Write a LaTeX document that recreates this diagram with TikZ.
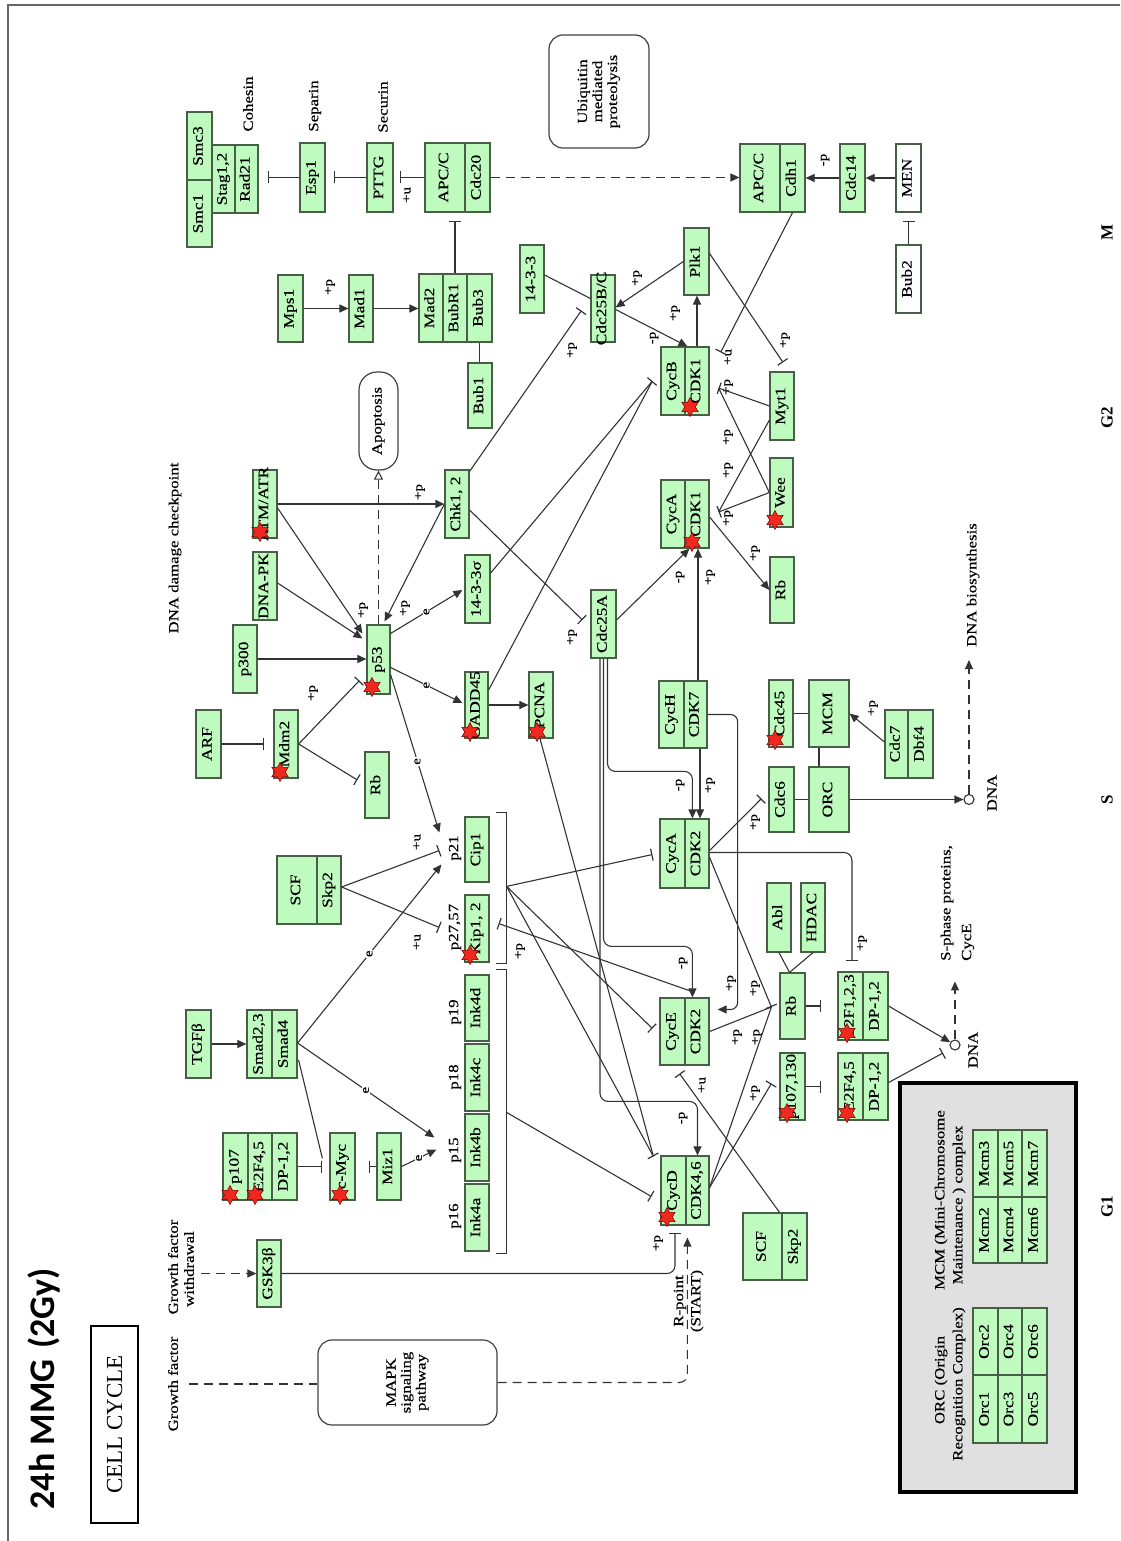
\documentclass[tikz,border=0pt]{standalone}
\usepackage{fontspec}
\setmainfont{Liberation Serif}
\newfontfamily\keggf[FakeStretch=1.2,FakeBold=0.4]{Liberation Serif}
\newfontfamily\titlef{Carlito}
\usetikzlibrary{arrows.meta,shapes.geometric,calc}
\definecolor{kgreen}{RGB}{191,250,191}
\definecolor{bdr}{RGB}{70,95,70}
\definecolor{starred}{RGB}{240,40,30}
\newcommand{\boxfont}{\keggf\fontsize{14.5}{16}\selectfont}
\newcommand{\lblfont}{\keggf\fontsize{14}{15}\selectfont}
\newcommand{\smfont}{\keggf\fontsize{12.5}{13}\selectfont}
\newcommand{\phfont}{\fontsize{17}{18}\selectfont\bfseries}
\newcommand{\rt}[1]{\rotatebox{90}{\makebox[0pt]{\strut #1}}}
\newcommand{\bx}[7][gbox]{%
 \pgfmathsetmacro\bxcx{(#3+#5)/2}%
 \pgfmathsetmacro\bxcy{(#4+#6)/2}%
 \pgfmathsetmacro\bxww{#5-#3}%
 \pgfmathsetmacro\bxhh{#6-#4}%
 \node[#1,minimum width=\bxww pt,minimum height=\bxhh pt] (#2) at (\bxcx,\bxcy) {\rt{#7}};}
\tikzset{
 gbox/.style={draw=bdr,fill=kgreen,line width=1.2pt,inner sep=0pt,font=\boxfont},
 wbox/.style={gbox,fill=white},
 rbox/.style={draw=black!75,line width=1.2pt,rounded corners=14pt,inner sep=0pt,font=\lblfont},
 lbl/.style={rotate=90,inner sep=1pt,font=\lblfont},
 sm/.style={rotate=90,inner sep=0.5pt,font=\smfont},
 elbl/.style={sm,fill=white,inner sep=0.8pt},
 ln/.style={draw=black!80,line width=1.1pt},
 arr/.style={ln,-{Triangle[width=8pt,length=9pt]}},
 inh/.style={ln,-{Bar[width=12pt,line width=1.2pt]}},
 dsh/.style={dash pattern=on 9pt off 6pt},
 rstar/.style={star,star points=6,star point ratio=1.8,fill=starred,draw=red!50!black,line width=0.5pt,minimum size=19pt,inner sep=0pt},
 dnac/.style={circle,draw=black!80,line width=1.1pt,minimum size=10pt,inner sep=0pt}
}
\begin{document}
\begin{tikzpicture}[x=1pt,y=-1pt]
\useasboundingbox (0,0) rectangle (1120,1541);
\draw[black!60,line width=1.3pt] (8,1541) -- (8,5) -- (1120,5);

% title
\node[rotate=90,font=\titlef\bfseries\fontsize{36}{40}\selectfont] (title) at (44,1389) {24h MMG\hspace{0.3em}(2Gy)};
\node[rotate=90,draw=black,line width=1.3pt,minimum width=197pt,minimum height=47pt,inner sep=0pt,font=\fontsize{23}{25}\selectfont] (cc) at (114.5,1424.5) {CELL CYCLE};

% grey complex box
\node[draw=black,line width=3.5pt,fill=black!12,minimum width=176pt,minimum height=409pt,inner sep=0pt] (grayb) at (988,1287.5) {};

% boxes
\bx{Smc1}{187}{180}{212}{247}{Smc1}
\bx{Smc3}{187}{112}{212}{180}{Smc3}
\bx{Stag}{212}{145}{235}{213}{Stag1,2}
\bx{Rad21}{235}{145}{258}{213}{Rad21}
\bx{Esp1}{300}{143}{325}{212}{Esp1}
\bx{PTTG}{367}{143}{393}{212}{PTTG}
\bx{APCa}{425}{143}{465}{212}{APC/C}
\bx{Cdc20}{465}{143}{490}{212}{Cdc20}
\bx[rbox]{Ubq}{549}{35}{649}{148}{\begin{tabular}{@{}c@{}}Ubiquitin\\mediated\\proteolysis\end{tabular}}
\bx{APCb}{740}{144}{780}{212}{APC/C}
\bx{Cdh1}{780}{144}{805}{212}{Cdh1}
\bx{Cdc14}{840}{144}{865}{212}{Cdc14}
\bx[wbox]{MEN}{896}{144}{921}{212}{MEN}
\bx[wbox]{Bub2}{896}{245}{921}{313}{Bub2}
\bx{Mps1}{278}{275}{303}{342}{Mps1}
\bx{Mad1}{349}{275}{373}{342}{Mad1}
\bx{Mad2}{419}{274}{443}{342}{Mad2}
\bx{BubR1}{443}{274}{467}{342}{BubR1}
\bx{Bub3}{467}{274}{492}{342}{Bub3}
\bx{Bub1}{468}{363}{492}{428}{Bub1}
\bx{Fa}{520}{245}{544}{313}{14-3-3}
\bx{Cdc25BC}{591}{275}{615}{342}{Cdc25B/C}
\bx{Plk1}{684}{228}{709}{295}{Plk1}
\bx{CycB}{661}{347}{685}{415}{CycB}
\bx{CDKb}{685}{347}{709}{415}{CDK1}
\bx{Myt1}{770}{372}{794}{440}{Myt1}
\bx[rbox,rounded corners=18pt]{Apo}{359}{372}{398}{470}{Apoptosis}
\bx{ATM}{253}{470}{277}{538}{ATM/ATR}
\bx{DNAPK}{253}{552}{277}{620}{DNA-PK}
\bx{Chk}{445}{470}{469}{538}{Chk1, 2}
\bx{Fs}{465}{555}{490}{623}{14-3-3σ}
\bx{CycAa}{661}{480}{685}{548}{CycA}
\bx{CDKa}{685}{480}{709}{548}{CDK1}
\bx{Wee}{770}{458}{793}{527}{Wee}
\bx{RbG}{770}{557}{794}{623}{Rb}
\bx{Cdc25A}{591}{590}{616}{658}{Cdc25A}
\bx{p300}{233}{625}{257}{693}{p300}
\bx{p53}{367}{625}{390}{694}{p53}
\bx{GADD}{465}{672}{488}{738}{GADD45}
\bx{PCNA}{529}{672}{553}{738}{PCNA}
\bx{CycH}{659}{681}{684}{748}{CycH}
\bx{CDK7}{684}{681}{707}{748}{CDK7}
\bx{Cdc45}{769}{680}{793}{747}{Cdc45}
\bx{MCM}{809}{680}{849}{747}{MCM}
\bx{Cdc7}{885}{710}{908}{778}{Cdc7}
\bx{Dbf4}{908}{710}{933}{778}{Dbf4}
\bx{ARF}{196}{710}{221}{778}{ARF}
\bx{Mdm2}{274}{710}{298}{778}{Mdm2}
\bx{RbS}{365}{752}{389}{818}{Rb}
\bx{Cdc6}{769}{767}{794}{832}{Cdc6}
\bx{ORC}{809}{767}{849}{832}{ORC}
\bx{Cip1}{465}{817}{489}{882}{Cip1}
\bx{Kip}{465}{895}{489}{962}{Kip1, 2}
\bx{SCFa}{277}{856}{317}{924}{SCF}
\bx{Skpa}{317}{856}{341}{924}{Skp2}
\bx{CycAb}{660}{819}{685}{888}{CycA}
\bx{CDK2a}{685}{819}{709}{888}{CDK2}
\bx{Abl}{767}{883}{791}{952}{Abl}
\bx{HDAC}{801}{883}{825}{952}{HDAC}
\bx{Ink4d}{465}{975}{489}{1041}{Ink4d}
\bx{Ink4c}{465}{1044}{489}{1111}{Ink4c}
\bx{Ink4b}{465}{1114}{489}{1181}{Ink4b}
\bx{Ink4a}{465}{1184}{489}{1251}{Ink4a}
\bx{TGFb}{186}{1010}{211}{1078}{TGFβ}
\bx{Smad23}{247}{1010}{272}{1078}{Smad2,3}
\bx{Smad4}{272}{1010}{297}{1078}{Smad4}
\bx{CycE}{660}{998}{685}{1065}{CycE}
\bx{CDK2e}{685}{998}{709}{1065}{CDK2}
\bx{Rb}{780}{973}{805}{1039}{Rb}
\bx{EFa}{838}{972}{863}{1040}{E2F1,2,3}
\bx{DPa}{863}{972}{888}{1040}{DP-1,2}
\bx{pOT}{780}{1053}{805}{1120}{p107,130}
\bx{EFb}{838}{1053}{863}{1120}{E2F4,5}
\bx{DPb}{863}{1053}{888}{1120}{DP-1,2}
\bx{p107}{223}{1133}{248}{1200}{p107}
\bx{EFc}{248}{1133}{272}{1200}{E2F4,5}
\bx{DPc}{272}{1133}{297}{1200}{DP-1,2}
\bx{cMyc}{330}{1133}{355}{1200}{c-Myc}
\bx{Miz1}{377}{1133}{401}{1200}{Miz1}
\bx{CycD}{661}{1156}{686}{1225}{CycD}
\bx{CDK46}{686}{1156}{709}{1225}{CDK4,6}
\bx{SCFb}{743}{1213}{782}{1280}{SCF}
\bx{Skpb}{782}{1213}{807}{1280}{Skp2}
\bx{GSK}{257}{1240}{281}{1307}{GSK3β}
\bx[rbox]{MAPK}{318}{1340}{497}{1425}{\begin{tabular}{@{}c@{}}MAPK\\signaling\\pathway\end{tabular}}
% complexes in grey box
\bx{Mcm3}{973}{1130}{998}{1197}{Mcm3}
\bx{Mcm2}{973}{1197}{998}{1263}{Mcm2}
\bx{Mcm5}{998}{1130}{1022}{1197}{Mcm5}
\bx{Mcm4}{998}{1197}{1022}{1263}{Mcm4}
\bx{Mcm7}{1022}{1130}{1047}{1197}{Mcm7}
\bx{Mcm6}{1022}{1197}{1047}{1263}{Mcm6}
\bx{Orc2}{973}{1308}{998}{1375}{Orc2}
\bx{Orc1}{973}{1375}{998}{1443}{Orc1}
\bx{Orc4}{998}{1308}{1022}{1375}{Orc4}
\bx{Orc3}{998}{1375}{1022}{1443}{Orc3}
\bx{Orc6}{1022}{1308}{1047}{1375}{Orc6}
\bx{Orc5}{1022}{1375}{1047}{1443}{Orc5}

% DNA circles
\node[dnac] (dnaA) at (969,799.5) {};
\node[dnac] (dnaB) at (955,1045) {};

% text labels
\node[lbl] (tCoh) at (248,104) {Cohesin};
\node[lbl] (tSep) at (315,106) {Separin};
\node[lbl] (tSec) at (383,107) {Securin};
\node[lbl] (tDDC) at (175,548) {DNA damage checkpoint};
\node[lbl] (tBio) at (973,585) {DNA biosynthesis};
\node[lbl] (tDNA1) at (992,793) {DNA};
\node[lbl] (tDNA2) at (973,1050) {DNA};
\node[lbl,anchor=west] (tSph1) at (947,962) {S-phase proteins,};
\node[lbl,anchor=west] (tSph2) at (968,962) {CycE};
\node[lbl] (tGF) at (173,1384) {Growth factor};
\node[lbl] (tGW1) at (173,1267) {Growth factor};
\node[lbl] (tGW2) at (189,1269) {withdrawal};
\node[lbl] (tR1) at (680,1301) {R-point};
\node[lbl] (tR2) at (697,1301) {(START)};
\node[lbl] (tMCM1) at (941,1200) {MCM (Mini-Chromosome};
\node[lbl] (tMCM2) at (959,1205) {Maintenance ) complex};
\node[lbl] (tORC1) at (941,1380) {ORC (Origin};
\node[lbl] (tORC2) at (959,1384) {Recognition Complex)};
\node[lbl] (tp21) at (455,848) {p21};
\node[lbl] (tp27) at (455,927) {p27,57};
\node[lbl] (tp19) at (455,1012) {p19};
\node[lbl] (tp18) at (455,1077) {p18};
\node[lbl] (tp15) at (455,1150) {p15};
\node[lbl] (tp16) at (455,1216) {p16};
\node[lbl,font=\phfont] (phM) at (1107,232) {M};
\node[lbl,font=\phfont] (phG2) at (1107,418) {G2};
\node[lbl,font=\phfont] (phS) at (1107,800) {S};
\node[lbl,font=\phfont] (phG1) at (1107,1207) {G1};

% small modification labels
\node[sm] (l1) at (407,195) {+u};
\node[sm] (l2) at (330,287) {+p};
\node[sm] (l3) at (825,160) {-p};
\node[sm] (l4) at (637,278) {+p};
\node[sm] (l5) at (654,338) {-p};
\node[sm] (l6) at (675,313) {+p};
\node[sm] (l7) at (728,357) {+u};
\node[sm] (l8) at (785,340) {+p};
\node[sm] (l9) at (728,387) {+p};
\node[sm] (l10) at (572,350) {+p};
\node[sm] (l11) at (728,437) {+p};
\node[sm] (l12) at (728,470) {+p};
\node[sm] (l13) at (728,518) {+p};
\node[sm] (l14) at (755,553) {+p};
\node[sm] (l15) at (680,577) {-p};
\node[sm] (l16) at (710,577) {+p};
\node[sm] (l17) at (572,637) {+p};
\node[sm] (l18) at (420,492) {+p};
\node[sm] (l19) at (363,610) {+p};
\node[sm] (l20) at (405,608) {+p};
\node[sm] (l21) at (313,693) {+p};
\node[sm] (l22) at (873,708) {+p};
\node[sm] (l23) at (680,785) {-p};
\node[sm] (l24) at (710,785) {+p};
\node[sm] (l25) at (755,822) {+p};
\node[sm] (l26) at (417,842) {+u};
\node[sm] (l27) at (417,942) {+u};
\node[sm] (l28) at (520,951) {+p};
\node[sm] (l29) at (862,943) {+p};
\node[sm] (l30) at (683,963) {-p};
\node[sm] (l31) at (731,983) {+p};
\node[sm] (l32) at (755,988) {+p};
\node[sm] (l33) at (737,1037) {+p};
\node[sm] (l34) at (757,1037) {+p};
\node[sm] (l35) at (702,1085) {+u};
\node[sm] (l36) at (755,1093) {+p};
\node[sm] (l37) at (683,1118) {-p};
\node[sm] (l38) at (658,1243) {+p};

% ---------- connectors ----------
\draw[inh] (Esp1.west) -- ($(Esp1.west -| Rad21.east)+(9,0)$);
\draw[inh] (PTTG.west) -- ($(PTTG.west -| Esp1.east)+(8,0)$);
\draw[inh] (APCa.west) -- ($(APCa.west -| PTTG.east)+(6,0)$);
\draw[inh] (BubR1.north) -- ($(BubR1.north |- APCa.south)+(0,8)$);
\draw[arr,dsh] (Cdc20.east) -- (Cdc20.east -| APCb.west);
\draw[arr] (Cdc14.west) -- (Cdc14.west -| Cdh1.east);
\draw[arr] (MEN.west) -- (MEN.west -| Cdc14.east);
\draw[inh] (Bub2.north) -- ($(MEN.south)+(0,8)$);
\draw[arr] (Mps1.east) -- (Mad1.west);
\draw[arr] (Mad1.east) -- (Mad1.east -| Mad2.west);
\draw[ln] (Bub3.south) -- (Bub3.south |- Bub1.north);
\draw[ln] ($(Fa.east)+(0,-4)$) -- ($(Cdc25BC.west)+(0,-10)$);
\draw[arr] (Plk1.west) -- ($(Cdc25BC.east)+(0,-1)$);
\draw[arr] ($(Cdc25BC.east)+(0,1)$) -- ($(CDKb.north west)+(3,0)$);
\draw[arr] (CDKb.north) -- (CDKb.north |- Plk1.south);
\draw[inh] (Cdh1.south) -- ($(CDKb.north east)+(11,6)$);
\draw[inh] ($(Plk1.east)+(0,-8)$) -- ($(Myt1.north)+(1,-9)$);
\draw[inh] (Myt1.west) -- ($(CDKb.east)+(9,7)$);
\draw[ln] (Wee.west) -- ($(CDKb.east)+(9,7)$);
\draw[ln] ($(Myt1.west)+(0,14)$) -- ($(CDKa.east)+(9,-2)$);
\draw[inh] (Wee.west) -- ($(CDKa.east)+(9,-2)$);
\draw[arr] ($(CDKa.east)+(0,3)$) -- (RbG.west);
\draw[arr] ($(Cdc25A.east)+(0,-4)$) -- ($(CDKa.south west)+(5,0)$);
\draw[arr] ($(CDK7.north)+(2.5,0)$) -- ($(CDK7.north |- CDKa.south)+(2.5,0)$);
\draw[inh] ($(Chk.north east)+(0,2)$) -- ($(Cdc25BC.south west)+(-9,-32)$);
\draw[inh] ($(Chk.east)+(0,6)$) -- ($(Cdc25A.west)+(-8,-4)$);
\draw[inh] ($(Fs.east)+(0,-16)$) -- ($(CycB.west)+(-8,0)$);
\draw[ln] ($(GADD.east)+(0,-15)$) -- ($(CycB.west)+(-8,0)$);
\draw[arr] ($(ATM.east)+(0,4)$) -- ($(p53.west)+(-4,-26)$);
\draw[arr] ($(DNAPK.east)+(0,-3)$) -- ($(p53.west)+(-4,-21)$);
\draw[arr] (ATM.east) -- (ATM.east -| Chk.west);
\draw[arr] (Chk.west) -- ($(p53.north east)+(-6,-3)$);
\draw[arr] (p300.east) -- (p300.east -| p53.west);
\draw[ln,dsh,-{Triangle[open,width=9pt,length=9pt]}] (p53.north) -- (p53.north |- Apo.south);
\draw[arr] ($(p53.east)+(0,-26)$) -- node[elbl](e1){e} ($(Fs.west)+(-2,1)$);
\draw[arr] ($(p53.east)+(0,8)$) -- node[elbl](e2){e} ($(GADD.west)+(-2,-2)$);
\draw[arr] (GADD.east) -- (GADD.east -| PCNA.west);
\draw[arr] ($(p53.south east)+(0,-20)$) -- node[elbl,pos=.55](e3){e} ($(Cip1.west)+(-25,-17)$);
\draw[inh] (ARF.east) -- ($(Mdm2.west)+(-9,0)$);
\draw[inh] (Mdm2.east) -- ($(p53.south west)+(-7,-14)$);
\draw[inh] (Mdm2.east) -- ($(RbS.west)+(-7,-5)$);
\draw[ln] (Cdc45.east) -- (MCM.west);
\draw[ln] ($(MCM.south)+(-10,0)$) -- ($(ORC.north)+(-10,0)$);
\draw[ln] (Cdc6.east) -- (ORC.west);
\draw[arr] ($(Cdc7.west)+(0,-2)$) -- (MCM.east);
\draw[arr] (ORC.east) -- (ORC.east -| dnaA.west);
\draw[ln,dsh,arr] (dnaA.north) -- ($(dnaA.north |- tBio.west)+(0,12)$);
\draw[arr] (DPa.east) -- (dnaB);
\draw[inh] ($(DPb.east)+(0,-4)$) -- ($(dnaB)+(-12,8)$);
\draw[ln,dsh,arr] (dnaB.north) -- ($(dnaB.north)+(0,-58)$);
\draw[inh] (Rb.east) -- ($(Rb.east -| EFa.west)+(-16,0)$);
\draw[inh] (pOT.east) -- ($(pOT.east -| EFb.west)+(-16,0)$);
\draw[ln] (Abl.south) -- ($(Rb.north)+(-3,0)$);
\draw[ln] (HDAC.south) -- ($(Rb.north)+(-3,0)$);
\draw[inh] ($(CDK2a.east)+(0,-3)$) -- ($(Cdc6.south west)+(-7,-34)$);
\draw[inh,rounded corners=8pt] ($(CDK2a.east)+(0,-1)$) -| ($(EFa.north)+(1.5,-10)$);
\draw[inh] ($(CDK2a.east)+(0,4)$) -- ($(Rb.west)+(-8,1)$);
\draw[ln] (CDK2e.east) -- ($(Rb.west)+(-8,1)$);
\draw[ln] ($(CDK46.east)+(0,-3)$) -- ($(Rb.west)+(-8,1)$);
\draw[inh] ($(CDK46.east)+(0,-3)$) -- ($(pOT.west)+(-8,-3)$);
\draw[inh] ($(Skpb.north)+(-15,0)$) -- ($(CycE.south)+(7,8)$);
\draw[arr,rounded corners=7pt] (CDK7.east) -- ($(CDK7.east -| CDK2e.east)+(28,0)$) |- ($(CDK2e.east)+(8,-22)$);
\draw[arr] ($(CDK7.south)+(4.5,0)$) -- ($(CDK7.south |- CDK2a.north)+(4.5,0)$);
\draw[arr,rounded corners=8pt] ($(Cdc25A.south)+(4,0)$) |- ($(CDK2a.north west)+(8,-47)$) -- ($(CDK2a.north west)+(8,0)$);
\draw[arr,rounded corners=8pt] (Cdc25A.south) |- ($(CDK2e.north west)+(8,-51)$) -- ($(CDK2e.north west)+(8,0)$);
\draw[arr,rounded corners=8pt] ($(Cdc25A.south)+(-3.5,0)$) |- ($(CDK46.north)+(0,-54)$) -- (CDK46.north);
\draw[inh,rounded corners=8pt] (GSK.east) -| ($(CycD.south)+(1.5,7)$);
\draw[ln,dsh,arr,rounded corners=8pt] (MAPK.east) -| ($(CDK46.south west)+(2,12)$);
\draw[ln,dsh] ($(tGF.south)+(10,0)$) -- (tGF.south -| MAPK.west);
\draw[ln,dsh,arr] ($(GSK.west -| tGW2.south)+(6,0)$) -- (GSK.west);
\draw[arr] (TGFb.east) -- (TGFb.east -| Smad23.west);
\draw[arr] ($(Smad4.east)+(0,-1)$) -- node[elbl](e4){e} ($(Cip1.west)+(-23,15)$);
\draw[arr] ($(Smad4.east)+(0,-1)$) -- node[elbl](e5){e} ($(Ink4b.west)+(-30,-10)$);
\draw[ln] ($(Smad4.east)+(1,16)$) -- ($(cMyc.west)+(-7,-8)$);
\draw[inh] (DPc.east) -- ($(cMyc.west)+(-7,0)$);
\draw[inh] (Miz1.west) -- ($(cMyc.east)+(13,0)$);
\draw[arr] (Miz1.east) -- node[elbl](e6){e} ($(Ink4b.west)+(-28,2)$);
\draw[inh] ($(Skpa.east)+(0,-3)$) -- ($(Cip1.west)+(-25,1)$);
\draw[inh] ($(Skpa.east)+(0,-3)$) -- ($(Kip.west)+(-25,-1)$);
\draw[ln] ($(Cip1.north east)+(6,-4)$) -- ++(11,0) |- ($(Kip.south east)+(6,1)$);
\draw[ln] ($(Ink4d.north east)+(6,-5)$) -- ++(11,0) |- ($(Ink4a.south east)+(6,2)$);
\coordinate (kipb) at ($(Kip.north east)+(17,-8)$);
\coordinate (inkb) at ($(Ink4b.north east)+(17,-1)$);
\draw[inh] (kipb) -- ($(CycAb.west)+(-7,1)$);
\draw[inh] (kipb) -- ($(CycE.west)+(-7,-3)$);
\draw[inh] (kipb) -- ($(CycD.north west)+(-7,1)$);
\draw[inh] (inkb) -- ($(CycD.west)+(-9,6)$);
\draw[ln] ($(PCNA.south)+(-1,0)$) -- ($(CycD.north west)+(-7,1)$);
\draw[inh] ($(CDK2e.north west)+(10,-5)$) -- ($(Kip.east)+(9,-5)$);

% stars
\node[rstar] (s1) at (690,407) {};
\node[rstar] (s2) at (692,542) {};
\node[rstar] (s3) at (775,520) {};
\node[rstar] (s4) at (260,532) {};
\node[rstar] (s5) at (372,687) {};
\node[rstar] (s6) at (470,732) {};
\node[rstar] (s7) at (537,732) {};
\node[rstar] (s8) at (280,772) {};
\node[rstar] (s9) at (775,740) {};
\node[rstar] (s10) at (470,955) {};
\node[rstar] (s11) at (847,1033) {};
\node[rstar] (s12) at (787,1113) {};
\node[rstar] (s13) at (847,1113) {};
\node[rstar] (s14) at (230,1195) {};
\node[rstar] (s15) at (255,1195) {};
\node[rstar] (s16) at (340,1195) {};
\node[rstar] (s17) at (667,1217) {};
\end{tikzpicture}
\end{document}
